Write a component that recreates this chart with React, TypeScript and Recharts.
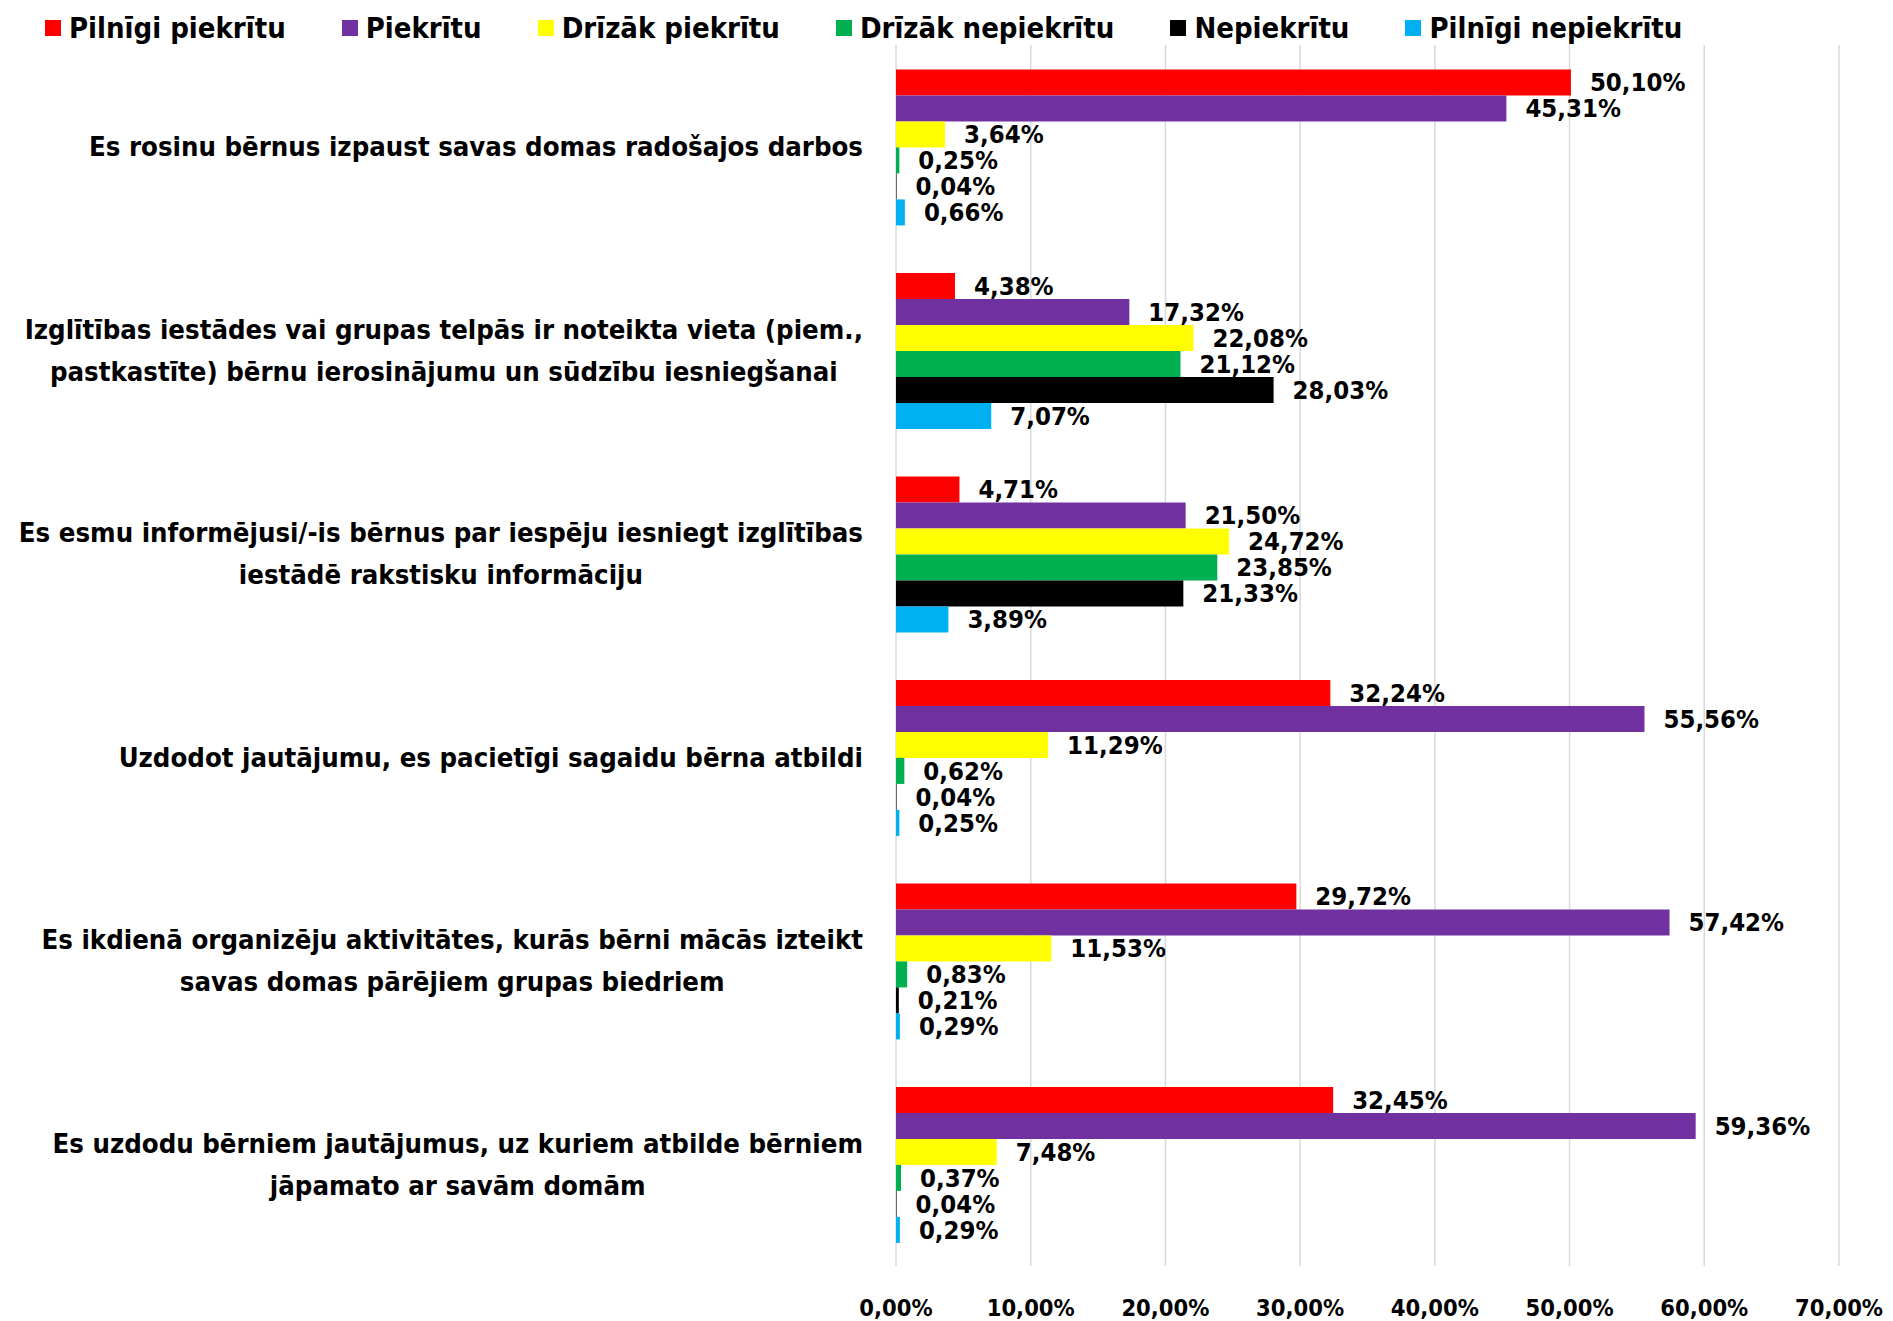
import React from "react";
import { BarChart, Bar, XAxis, YAxis, CartesianGrid, LabelList } from "recharts";

const categories = [
  "Es rosinu bērnus izpaust savas domas radošajos darbos",
  "Izglītības iestādes vai grupas telpās ir noteikta vieta (piem.,\npastkastīte) bērnu ierosinājumu un sūdzību iesniegšanai",
  "Es esmu informējusi/-is bērnus par iespēju iesniegt izglītības\niestādē rakstisku informāciju",
  "Uzdodot jautājumu, es pacietīgi sagaidu bērna atbildi",
  "Es ikdienā organizēju aktivitātes, kurās bērni mācās izteikt\nsavas domas pārējiem grupas biedriem",
  "Es uzdodu bērniem jautājumus, uz kuriem atbilde bērniem\njāpamato ar savām domām",
];

const seriesNames = [
  "Pilnīgi piekrītu",
  "Piekrītu",
  "Drīzāk piekrītu",
  "Drīzāk nepiekrītu",
  "Nepiekrītu",
  "Pilnīgi nepiekrītu",
];
const seriesColors = ["#FF0000", "#7030A0", "#FFFF00", "#00B050", "#000000", "#00B0F0"];

const pilnigiPiekritu = [50.1, 4.38, 4.71, 32.24, 29.72, 32.45];
const piekritu = [45.31, 17.32, 21.5, 55.56, 57.42, 59.36];
const drizakPiekritu = [3.64, 22.08, 24.72, 11.29, 11.53, 7.48];
const drizakNepiekritu = [0.25, 21.12, 23.85, 0.62, 0.83, 0.37];
const nepiekritu = [0.04, 28.03, 21.33, 0.04, 0.21, 0.04];
const pilnigiNepiekritu = [0.66, 7.07, 3.89, 0.25, 0.29, 0.29];

const xTicks = [0, 10, 20, 30, 40, 50, 60, 70];

const seriesValues = [
  pilnigiPiekritu,
  piekritu,
  drizakPiekritu,
  drizakNepiekritu,
  nepiekritu,
  pilnigiNepiekritu,
];

const data = categories.map((name, i) => {
  const row: Record<string, string | number> = { name };
  seriesValues.forEach((vals, s) => {
    row["s" + s] = vals[i];
  });
  return row;
});

const FONT_FAMILY = "'DejaVu Sans Condensed', 'DejaVu Sans', sans-serif";
const LABEL_SIZE = 25.5;
const TICK_SIZE = 23.5;
const CAT_SIZE = 27.3;
const LEGEND_SIZE = 29;

const fmt = (v: number) => v.toFixed(2).replace(".", ",") + "%";

let ctx: CanvasRenderingContext2D | null = null;
function textWidth(s: string, font: string) {
  if (!ctx) ctx = document.createElement("canvas").getContext("2d");
  if (!ctx) return s.length * 14;
  ctx.font = font;
  return ctx.measureText(s).width;
}

// category labels: block right-aligned to the axis, lines centred in it
function CategoryTick(props: any) {
  const { x, y, payload } = props;
  const lines = String(payload.value).split("\n");
  const font = `bold ${CAT_SIZE}px ${FONT_FAMILY}`;
  const maxW = Math.max(...lines.map((l) => textWidth(l, font)));
  const cx = x - 33 - maxW / 2;
  const lh = 42;
  const y0 = y - ((lines.length - 1) * lh) / 2;
  return (
    <text textAnchor="middle" fontFamily={FONT_FAMILY} fontWeight="bold" fontSize={CAT_SIZE} fill="#000">
      {lines.map((l, i) => (
        <tspan key={i} x={cx} y={y0 + i * lh} dy="0.35em">
          {l}
        </tspan>
      ))}
    </text>
  );
}

function PercentTick(props: any) {
  const { x, y, payload } = props;
  return (
    <text x={x} y={y + 50} textAnchor="middle" fontFamily={FONT_FAMILY} fontWeight="bold" fontSize={TICK_SIZE} fill="#000">
      {fmt(payload.value)}
    </text>
  );
}

export default function App() {
  return (
    <div style={{ position: "absolute", left: 0, top: 0, width: 1893, height: 1321, background: "#fff" }}>
      <div
        style={{
          position: "absolute",
          left: 45,
          top: 8,
          height: 40,
          display: "flex",
          alignItems: "center",
          fontFamily: FONT_FAMILY,
          fontWeight: "bold",
          fontSize: LEGEND_SIZE,
          color: "#000",
          zIndex: 2,
        }}
      >
        {seriesNames.map((n, i) => (
          <div key={n} style={{ display: "flex", alignItems: "center", marginRight: 56 }}>
            <span style={{ width: 16, height: 16, background: seriesColors[i], marginRight: 8, display: "inline-block" }} />
            <span>{n}</span>
          </div>
        ))}
      </div>
      <BarChart
        width={1893}
        height={1321}
        data={data}
        layout="vertical"
        margin={{ top: 45, right: 54, bottom: 0, left: 0 }}
        barCategoryGap="12%"
        barGap={0}
      >
        <CartesianGrid horizontal={false} stroke="#d9d9d9" strokeWidth={1.5} />
        <XAxis
          type="number"
          domain={[0, 70]}
          ticks={xTicks}
          interval={0}
          axisLine={false}
          tickLine={false}
          tickSize={0}
          tickMargin={0}
          height={55}
          tick={<PercentTick />}
        />
        <YAxis
          type="category"
          dataKey="name"
          width={896}
          interval={0}
          axisLine={false}
          tickLine={false}
          tickSize={0}
          tickMargin={0}
          tick={<CategoryTick />}
        />
        {seriesNames.map((n, i) => (
          <Bar key={n} dataKey={"s" + i} name={n} fill={seriesColors[i]} isAnimationActive={false}>
            <LabelList
              dataKey={"s" + i}
              position="right"
              offset={19}
              formatter={(v: any) => fmt(Number(v))}
              style={{ fontFamily: FONT_FAMILY, fontWeight: "bold", fontSize: LABEL_SIZE, fill: "#000" }}
            />
          </Bar>
        ))}
      </BarChart>
    </div>
  );
}
